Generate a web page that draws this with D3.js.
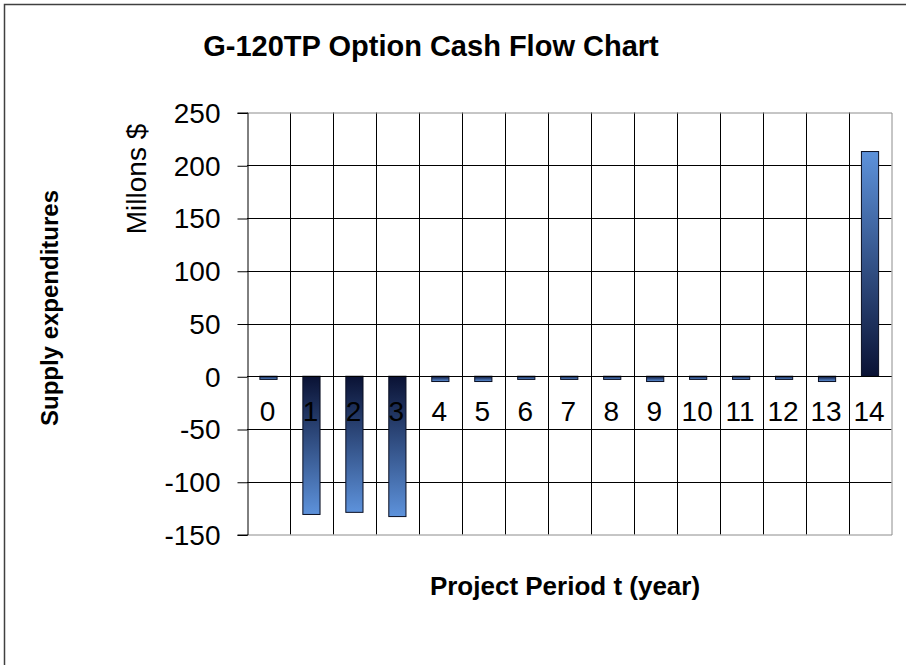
<!DOCTYPE html>
<html>
<head>
<meta charset="utf-8">
<script src="https://cdn.jsdelivr.net/npm/d3@7"></script>
<style>
  body { margin: 0; background: #fff; }
  text { font-family: "Liberation Sans", Arial, sans-serif; fill: #000; }
</style>
</head>
<body>
<div id="chart"></div>
<script>
const periods = ["0", "1", "2", "3", "4", "5", "6", "7", "8", "9", "10", "11", "12", "13", "14"];
const cashFlow = [-3, -131, -129, -133, -5, -5, -3, -3, -3, -5, -3, -3, -3, -5, 213];
const yTicks = [250, 200, 150, 100, 50, 0, -50, -100, -150];

const width = 906, height = 665;
const plot = { left: 247, right: 891.5, top: 112.5, bottom: 534.5 };

let svg = d3.select("#chart")
  .append("svg")
  .attr("width", width)
  .attr("height", height);

svg.append("rect")
  .attr("width", width)
  .attr("height", height)
  .attr("fill", "#fff");

// outer frame (right and bottom edges run off the picture)
svg.append("rect")
  .attr("x", 4.5)
  .attr("y", 4.5)
  .attr("width", width + 20)
  .attr("height", height + 20)
  .attr("fill", "none")
  .attr("stroke", "#404040")
  .attr("stroke-width", 1.5);

let defs = svg.append("defs");

function gradient(id, from, to) {
  let g = defs.append("linearGradient")
    .attr("id", id)
    .attr("x1", 0).attr("y1", 0)
    .attr("x2", 0).attr("y2", 1);
  g.append("stop").attr("offset", "0%").attr("stop-color", from);
  g.append("stop").attr("offset", "100%").attr("stop-color", to);
}
gradient("gradPos", "#5d92db", "#0a1234");
gradient("gradNeg", "#0a1234", "#5d92db");

let x = d3.scaleBand()
  .domain(periods)
  .range([plot.left, plot.right])
  .paddingInner(0.6)
  .paddingOuter(0.3);

let y = d3.scaleLinear()
  .domain([-150, 250])
  .range([plot.bottom, plot.top]);

let step = x.step();

// horizontal gridlines
svg.append("g")
  .selectAll("line")
  .data(yTicks.filter(d => d != 250 && d != -150))
  .enter().append("line")
  .attr("x1", plot.left)
  .attr("x2", plot.right)
  .attr("y1", d => Math.round(y(d)) + 0.5)
  .attr("y2", d => Math.round(y(d)) + 0.5)
  .attr("stroke", "#000");

// vertical gridlines between categories
svg.append("g")
  .selectAll("line")
  .data(periods.slice(1))
  .enter().append("line")
  .attr("x1", d => Math.round(x(d) - x.paddingOuter() * step) + 0.5)
  .attr("x2", d => Math.round(x(d) - x.paddingOuter() * step) + 0.5)
  .attr("y1", plot.top)
  .attr("y2", plot.bottom)
  .attr("stroke", "#000");

// plot area border
svg.append("path")
  .attr("d", `M${plot.left},${plot.top + 0.5}H${plot.right + 0.5}V${plot.bottom + 0.5}H${plot.left}`)
  .attr("fill", "none")
  .attr("stroke", "#8c8c8c");

// y axis
let yAxis = svg.append("g")
  .attr("transform", `translate(${plot.left + 0.5},0)`)
  .call(d3.axisLeft(y)
    .tickValues(yTicks)
    .tickFormat(d => String(d))
    .tickSize(10)
    .tickPadding(17));

yAxis.select(".domain").attr("stroke", "#000");
yAxis.selectAll(".tick line").attr("stroke", "#000")
  .attr("transform", "translate(0,0.5)");
yAxis.selectAll(".tick text")
  .style("font-size", "28px")
  .attr("dy", "0.35em");

// bars
svg.append("g")
  .selectAll("rect")
  .data(cashFlow)
  .enter().append("rect")
  .attr("x", (d, i) => x(periods[i]))
  .attr("width", x.bandwidth())
  .attr("y", d => y(Math.max(0, d)))
  .attr("height", d => Math.abs(y(d) - y(0)))
  .attr("fill", d => d >= 0 ? "url(#gradPos)" : "url(#gradNeg)")
  .attr("stroke", "#0a0f22")
  .attr("stroke-width", 1);

// zero line
svg.append("line")
  .attr("x1", plot.left)
  .attr("x2", plot.right)
  .attr("y1", Math.round(y(0)) + 0.5)
  .attr("y2", Math.round(y(0)) + 0.5)
  .attr("stroke", "#000");

// category labels sit inside the plot, just under the zero line
svg.append("g")
  .selectAll("text")
  .data(periods)
  .enter().append("text")
  .attr("x", d => x(d) + x.bandwidth() / 2 - 1)
  .attr("y", y(0) + 45)
  .attr("text-anchor", "middle")
  .style("font-size", "28px")
  .text(d => d);

svg.append("text")
  .attr("x", 431)
  .attr("y", 56)
  .attr("text-anchor", "middle")
  .style("font-size", "29px")
  .style("font-weight", "bold")
  .text("G-120TP Option Cash Flow Chart");

svg.append("text")
  .attr("x", 565)
  .attr("y", 595)
  .attr("text-anchor", "middle")
  .style("font-size", "26px")
  .style("font-weight", "bold")
  .text("Project Period t (year)");

svg.append("text")
  .attr("transform", "translate(58,308) rotate(-90)")
  .attr("text-anchor", "middle")
  .style("font-size", "24px")
  .style("font-weight", "bold")
  .text("Supply expenditures");

svg.append("text")
  .attr("transform", "translate(146,179) rotate(-90)")
  .attr("text-anchor", "middle")
  .style("font-size", "28px")
  .text("Millons $");
</script>
</body>
</html>
